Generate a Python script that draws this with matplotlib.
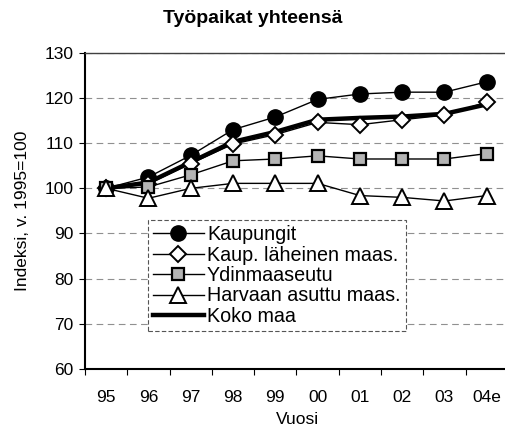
import matplotlib.pyplot as plt
from matplotlib.ticker import MultipleLocator

plt.rcParams["font.family"] = ["Liberation Sans", "DejaVu Sans"]

# Years on the x axis
YEARS = ["95", "96", "97", "98", "99", "00", "01", "02", "03", "04e"]

# Index values (1995 = 100)
KAUPUNGIT = [100, 102.5, 107.3, 113.0, 115.8, 119.7, 120.9, 121.3, 121.3, 123.6]
LAHEINEN = [100, 101.0, 105.5, 109.8, 111.9, 114.6, 114.1, 115.2, 116.2, 119.1]
YDINMAASEUTU = [100, 100.3, 103.0, 106.1, 106.5, 107.2, 106.5, 106.5, 106.5, 107.7]
HARVAAN = [100, 97.8, 100.0, 101.1, 101.1, 101.1, 98.4, 98.0, 97.2, 98.4]
KOKO_MAA = [100, 101.3, 105.8, 110.3, 112.5, 115.2, 115.6, 115.9, 116.5, 118.6]


def plot_chart(output_path="out.png"):
    fig = plt.figure(figsize=(5.06, 4.30), dpi=100)
    ax = fig.add_axes([0.168, 0.142, 0.84, 0.735])

    x = list(range(len(YEARS)))

    ax.plot(x, KOKO_MAA, color="black", linewidth=3.2, label="Koko maa", zorder=2)
    ax.plot(x, KAUPUNGIT, color="black", linewidth=1.0, marker="o",
            markersize=11, markerfacecolor="black", markeredgecolor="black",
            label="Kaupungit", zorder=3)
    ax.plot(x, LAHEINEN, color="black", linewidth=1.0, marker="D",
            markersize=8, markerfacecolor="white", markeredgecolor="black",
            markeredgewidth=1.4, label="Kaup. läheinen maas.", zorder=3)
    ax.plot(x, YDINMAASEUTU, color="black", linewidth=1.0, marker="s",
            markersize=9, markerfacecolor="#b4b4b4", markeredgecolor="black",
            markeredgewidth=1.6, label="Ydinmaaseutu", zorder=3)
    ax.plot(x, HARVAAN, color="black", linewidth=1.0, marker="^",
            markersize=11, markerfacecolor="white", markeredgecolor="black",
            markeredgewidth=1.4, label="Harvaan asuttu maas.", zorder=3)

    ax.set_xlim(-0.5, 9.55)
    ax.set_ylim(60, 130)
    ax.yaxis.set_major_locator(MultipleLocator(10))

    ax.set_xticks(x)
    ax.set_xticklabels(YEARS, fontsize=12.5)
    ax.set_xticks([i - 0.5 for i in range(len(YEARS) + 1)], minor=True)
    ax.tick_params(axis="x", which="major", length=0, pad=15)
    ax.tick_params(axis="x", which="minor", length=4, width=0.8)
    ax.tick_params(axis="y", labelsize=12.5, length=4.5, width=0.8, pad=4)

    # dashed grid lines
    ax.grid(axis="y", linestyle=(0, (6, 4)), color="#909090", linewidth=0.8)
    ax.set_axisbelow(True)

    ax.spines["right"].set_visible(False)
    ax.spines["top"].set_color("#404040")
    ax.spines["top"].set_linewidth(1.0)
    ax.spines["left"].set_linewidth(1.5)
    ax.spines["bottom"].set_linewidth(1.5)

    fig.text(0.5, 0.958, "Työpaikat yhteensä", fontsize=14,
             fontweight="bold", ha="center", va="center")
    ax.set_xlabel("Vuosi", fontsize=12.5, labelpad=5)
    ax.set_ylabel("Indeksi, v. 1995=100", fontsize=12.5, labelpad=10)

    handles, labels = ax.get_legend_handles_labels()
    order = [1, 2, 3, 4, 0]
    leg = ax.legend([handles[i] for i in order], [labels[i] for i in order],
                    loc="upper left", bbox_to_anchor=(0.148, 0.47),
                    borderaxespad=0, fontsize=14.2, handlelength=2.6,
                    handletextpad=0.15, labelspacing=0.07, borderpad=0.25,
                    fancybox=False, framealpha=1, edgecolor="#555555")
    leg.get_frame().set_linewidth(0.8)
    leg.get_frame().set_linestyle((0, (4, 2)))

    fig.savefig(output_path, dpi=100)
    plt.close(fig)


if __name__ == "__main__":
    plot_chart("out.png")
